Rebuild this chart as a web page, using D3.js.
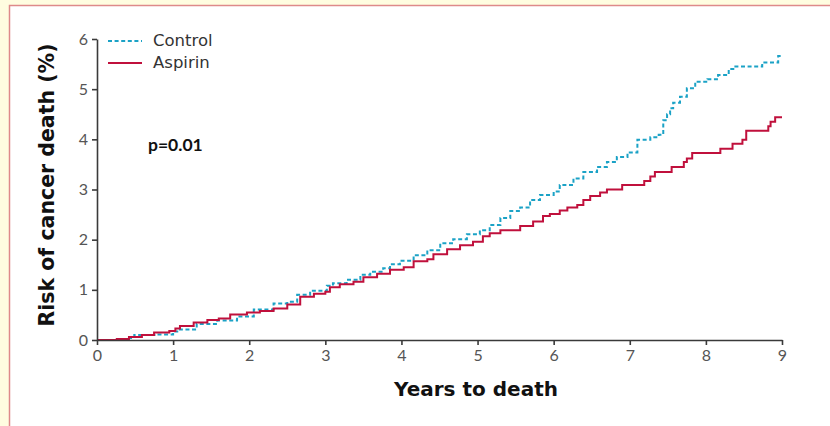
<!DOCTYPE html>
<html>
<head>
<meta charset="utf-8">
<script src="https://cdn.jsdelivr.net/npm/d3@7"></script>
<style>
  html, body { margin: 0; padding: 0; background: #fffde0; }
  svg { display: block; }
</style>
</head>
<body>
<svg id="chart" width="830" height="426"></svg>
<script>
// Cumulative risk of cancer death (%) by years to death
const controlYears = [0, 0.39, 0.49, 0.79, 1.0, 1.09, 1.31, 1.58, 1.84, 2.06, 2.32, 2.5, 2.63, 2.8, 3.02,
  3.1, 3.28, 3.46, 3.59, 3.76, 3.85, 3.98, 4.16, 4.34, 4.51, 4.68, 4.86, 5.03, 5.16, 5.3, 5.43,
  5.56, 5.69, 5.82, 6.0, 6.08, 6.26, 6.39, 6.57, 6.7, 6.83, 6.97, 7.1, 7.27, 7.38, 7.44, 7.49,
  7.53, 7.57, 7.66, 7.75, 7.86, 8.02, 8.16, 8.3, 8.36, 8.74, 8.95, 9];
const controlRisk = [0, 0.04, 0.1, 0.11, 0.17, 0.21, 0.32, 0.39, 0.47, 0.61, 0.73, 0.76, 0.9, 0.98, 1.08,
  1.13, 1.2, 1.3, 1.36, 1.43, 1.51, 1.58, 1.69, 1.79, 1.93, 2.01, 2.11, 2.19, 2.29, 2.43, 2.57,
  2.64, 2.79, 2.89, 2.96, 3.09, 3.22, 3.35, 3.45, 3.55, 3.65, 3.74, 3.99, 4.04, 4.09, 4.38, 4.5,
  4.62, 4.73, 4.85, 5.02, 5.15, 5.2, 5.28, 5.4, 5.45, 5.53, 5.66, 5.66];

const aspirinYears = [0, 0.26, 0.42, 0.59, 0.75, 0.95, 1.03, 1.09, 1.27, 1.45, 1.6, 1.75, 1.97, 2.14, 2.32,
  2.5, 2.67, 2.85, 3.0, 3.06, 3.19, 3.37, 3.5, 3.68, 3.85, 4.03, 4.16, 4.34, 4.42, 4.6, 4.77,
  4.94, 5.07, 5.16, 5.3, 5.56, 5.73, 5.86, 5.95, 6.08, 6.18, 6.31, 6.39, 6.48, 6.61, 6.7, 6.9,
  7.19, 7.27, 7.33, 7.55, 7.71, 7.75, 7.82, 8.19, 8.35, 8.48, 8.53, 8.82, 8.85, 8.91, 9];
const aspirinRisk = [0, 0.02, 0.06, 0.1, 0.15, 0.18, 0.23, 0.28, 0.35, 0.4, 0.43, 0.51, 0.55, 0.58, 0.63,
  0.71, 0.86, 0.92, 0.96, 1.05, 1.11, 1.16, 1.25, 1.32, 1.4, 1.45, 1.57, 1.61, 1.71, 1.81, 1.89,
  1.96, 2.07, 2.13, 2.19, 2.27, 2.36, 2.47, 2.51, 2.58, 2.64, 2.69, 2.79, 2.87, 2.94, 3.0, 3.09,
  3.17, 3.26, 3.35, 3.45, 3.55, 3.62, 3.73, 3.81, 3.91, 3.99, 4.17, 4.26, 4.35, 4.44, 4.44];

const xTicks = [0, 1, 2, 3, 4, 5, 6, 7, 8, 9];
const yTicks = [0, 1, 2, 3, 4, 5, 6];

const seriesNames = ["Control", "Aspirin"];
const seriesColors = ["#1ba2c6", "#c0103c"];

const series = [
  { name: seriesNames[0], color: seriesColors[0], dash: "4,2.6",
    pts: controlYears.map((t, i) => [t, controlRisk[i]]) },
  { name: seriesNames[1], color: seriesColors[1], dash: null,
    pts: aspirinYears.map((t, i) => [t, aspirinRisk[i]]) }
];

const svg = d3.select('#chart');

// panel: pale yellow page, white card with a pink frame
svg.append('rect')
  .attr('x', 9.5).attr('y', 5.5)
  .attr('width', 830).attr('height', 430)
  .attr('fill', '#fff')
  .attr('stroke', '#de8a8a')
  .attr('stroke-width', 1.5);

const x = d3.scaleLinear().domain([0, 9]).range([97, 782]);
const y = d3.scaleLinear().domain([0, 6]).range([340, 39]);

const line = d3.line()
  .x(d => x(d[0]))
  .y(d => y(d[1]))
  .curve(d3.curveStepAfter);

// curves first, axes drawn on top
series.forEach(s => {
  svg.append('path')
    .attr('d', line(s.pts))
    .attr('fill', 'none')
    .attr('stroke', s.color)
    .attr('stroke-width', 2)
    .attr('stroke-dasharray', s.dash);
});

const axisColor = '#3a3a3a';
const tickFont = 'Lato, "DejaVu Sans", sans-serif';
const titleFont = '"DejaVu Sans", sans-serif';

const xAxis = svg.append('g')
  .attr('transform', 'translate(0,340)')
  .call(d3.axisBottom(x).tickValues(xTicks).tickFormat(d3.format('d'))
    .tickSize(5).tickPadding(5).tickSizeOuter(0));

const yAxis = svg.append('g')
  .attr('transform', 'translate(97,0)')
  .call(d3.axisLeft(y).tickValues(yTicks).tickFormat(d3.format('d'))
    .tickSize(5).tickPadding(4).tickSizeOuter(0));

[xAxis, yAxis].forEach(a => {
  a.select('.domain').attr('stroke', axisColor).attr('stroke-width', 1.6);
  a.selectAll('.tick line').attr('stroke', axisColor).attr('stroke-width', 1.6);
  a.selectAll('.tick text')
    .attr('fill', '#555')
    .style('font-family', tickFont)
    .style('font-size', '16px');
});

// axis titles
svg.append('text')
  .attr('x', 476).attr('y', 396)
  .attr('text-anchor', 'middle')
  .style('font-family', titleFont)
  .style('font-weight', 700)
  .style('font-size', '20px')
  .attr('fill', '#111')
  .text('Years to death');

svg.append('text')
  .attr('transform', 'translate(54,185) rotate(-90)')
  .attr('text-anchor', 'middle')
  .style('font-family', titleFont)
  .style('font-weight', 700)
  .style('font-size', '20.5px')
  .attr('fill', '#111')
  .text('Risk of cancer death (%)');

// p value
svg.append('text')
  .attr('x', 148).attr('y', 151)
  .style('font-family', tickFont)
  .style('font-weight', 700)
  .style('font-size', '17.5px')
  .attr('fill', '#111')
  .text('p=0.01');

// legend
const legend = svg.append('g');
series.forEach((s, i) => {
  const ly = 41 + i * 22;
  legend.append('line')
    .attr('x1', 108).attr('x2', 142)
    .attr('y1', ly).attr('y2', ly)
    .attr('stroke', s.color)
    .attr('stroke-width', 2)
    .attr('stroke-dasharray', s.dash);
  legend.append('text')
    .attr('x', 153).attr('y', ly + 5)
    .style('font-family', titleFont)
    .style('font-size', '16.5px')
    .attr('fill', '#333')
    .text(s.name);
});
</script>
</body>
</html>
